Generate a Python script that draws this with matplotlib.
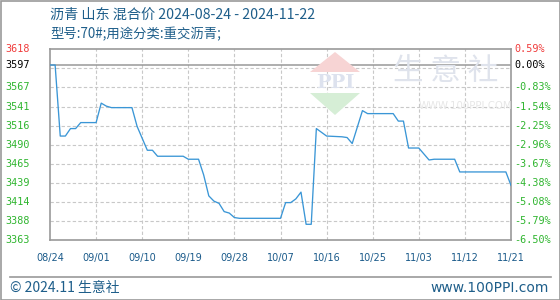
import numpy as np
import pandas as pd
import matplotlib
matplotlib.use("Agg")
import matplotlib.pyplot as plt
from matplotlib.patches import Rectangle, Polygon
from matplotlib.lines import Line2D

plt.rcParams['font.family'] = ['Noto Sans CJK SC', 'DejaVu Sans']

# data
dates = ["2024-08-24", "2024-08-25", "2024-08-26", "2024-08-27", "2024-08-28", "2024-08-29",
         "2024-08-30", "2024-09-02", "2024-09-03", "2024-09-04", "2024-09-05", "2024-09-09",
         "2024-09-10", "2024-09-11", "2024-09-12", "2024-09-13", "2024-09-14", "2024-09-19",
         "2024-09-20", "2024-09-22", "2024-09-23", "2024-09-24", "2024-09-25", "2024-09-26",
         "2024-09-27", "2024-09-28", "2024-09-29", "2024-09-30", "2024-10-08", "2024-10-09",
         "2024-10-10", "2024-10-11", "2024-10-12", "2024-10-13", "2024-10-14", "2024-10-15",
         "2024-10-16", "2024-10-17", "2024-10-20", "2024-10-21", "2024-10-22", "2024-10-23",
         "2024-10-24", "2024-10-25", "2024-10-30", "2024-10-31", "2024-11-01", "2024-11-02",
         "2024-11-04", "2024-11-05", "2024-11-06", "2024-11-07", "2024-11-11", "2024-11-12",
         "2024-11-21", "2024-11-22"]
prices = [3597, 3597, 3502, 3502, 3512, 3512,
          3520, 3520, 3546, 3542, 3540, 3540,
          3515, 3499, 3483, 3483, 3475, 3475,
          3471, 3471, 3450, 3422, 3415, 3412,
          3401, 3399, 3393, 3392, 3392, 3413,
          3413, 3418, 3427, 3384, 3384, 3512,
          3507, 3502, 3501, 3500, 3492, 3514,
          3536, 3532, 3532, 3522, 3522, 3486,
          3486, 3478, 3470, 3471, 3471, 3454,
          3454, 3436]

x_labels = ["08/24", "09/01", "09/10", "09/19", "09/28", "10/07",
            "10/16", "10/25", "11/03", "11/12", "11/21"]
left_labels = ["3618", "3597", "3567", "3541", "3516", "3490",
               "3465", "3439", "3414", "3388", "3363"]
right_labels = ["0.59%", "0.00%", "-0.83%", "-1.54%", "-2.25%", "-2.96%",
                "-3.67%", "-4.38%", "-5.08%", "-5.79%", "-6.50%"]
base_price = 3597
y_top, y_bottom = 3618, 3363

title = "沥青 山东 混合价 2024-08-24 - 2024-11-22"
subtitle = "型号:70#;用途分类:重交沥青;"

W, H = 560, 300
fig = plt.figure(figsize=(W / 100, H / 100), dpi=100)
ax = fig.add_axes([50 / W, 1 - 240 / H, 461 / W, 190.7 / H])

d = pd.to_datetime(dates)
days = (d - d[0]).days
ax.plot(days, prices, color='#3a96d6', lw=0.95, zorder=3)

total = days[-1]
ax.set_xlim(0, total)
ax.set_ylim(y_bottom, y_top)

grid_y = np.linspace(y_top, y_bottom, 11)
grid_x = np.linspace(0, total, 11)
for gy in grid_y[1:-1]:
    ax.axhline(gy, color='#c8c8c8', lw=0.8, ls=(0, (3, 2)), zorder=1)
for gx in grid_x[1:-1]:
    ax.axvline(gx, color='#c8c8c8', lw=0.8, ls=(0, (3, 2)), zorder=1)
ax.axhline(base_price, color='#999999', lw=1.1, zorder=2)

for s in ax.spines.values():
    s.set_color('#999999')
    s.set_linewidth(1.2)

ax.set_xticks(grid_x)
ax.set_xticklabels(x_labels, fontsize=7, color='#1a5a8a', family='DejaVu Sans')
ax.tick_params(axis='x', length=0, pad=9)
ax.set_yticks([])

label_y = list(grid_y)
label_y[1] = base_price
for v, lt, rt in zip(label_y, left_labels, right_labels):
    if v > base_price:
        c = '#f03c3c'
    elif v == base_price:
        c = '#000000'
    else:
        c = '#2fb52f'
    ax.annotate(lt, xy=(0, v), xycoords=('axes fraction', 'data'),
                xytext=(-45, 0), textcoords='offset pixels',
                ha='left', va='center', fontsize=7.3, color=c, family='DejaVu Sans Mono')
    ax.annotate(rt, xy=(1, v), xycoords=('axes fraction', 'data'),
                xytext=(3.5, 0), textcoords='offset pixels',
                ha='left', va='center', fontsize=7.3, color=c, family='DejaVu Sans Mono')

# watermark
tr = fig.transFigure
def fx(px):
    return px / W
def fy(py):
    return 1 - py / H
fig.patches.append(Polygon([(fx(310), fy(72)), (fx(335), fy(52)), (fx(360), fy(72))],
                           closed=True, transform=tr, fc='#f7d4d4', ec='none', zorder=0))
fig.patches.append(Polygon([(fx(310), fy(93)), (fx(335), fy(115)), (fx(360), fy(93))],
                           closed=True, transform=tr, fc='#d6eed6', ec='none', zorder=0))
fig.text(fx(335), fy(83), "PPI", ha='center', va='center', fontsize=14, color='#dde2ee',
         family='DejaVu Serif', fontweight='bold', zorder=0)
fig.text(fx(446), fy(72), "生 意 社", ha='center', va='center', fontsize=22,
         color='#dfe3ec', zorder=0)
fig.text(fx(465), fy(106), "WWW.100PPI.COM", ha='center', va='center', fontsize=7.3,
         color='#e6e6e6', family='DejaVu Sans', zorder=0)

# header
fig.text(fx(50), fy(15), title, ha='left', va='center', fontsize=10.2, color='#1e5e8a')
fig.text(fx(50), fy(34), subtitle, ha='left', va='center', fontsize=9.6, color='#1e5e8a')

# footer
fig.lines.append(Line2D([fx(10), fx(551)], [fy(277), fy(277)], transform=tr,
                        color='#999999', lw=1.2))
fig.text(fx(10), fy(288), "© 2024.11 生意社", ha='left', va='center', fontsize=10,
         color='#1e5e8a')
fig.text(fx(549), fy(288), "www.100PPI.com", ha='right', va='center', fontsize=10,
         color='#1e5e8a', family='DejaVu Sans')

fig.patches.append(Rectangle((fx(0.5), fy(299.5)), fx(559), 299 / H, transform=tr,
                             fill=False, ec='#999999', lw=1.2))

fig.savefig("out.png", dpi=100)
